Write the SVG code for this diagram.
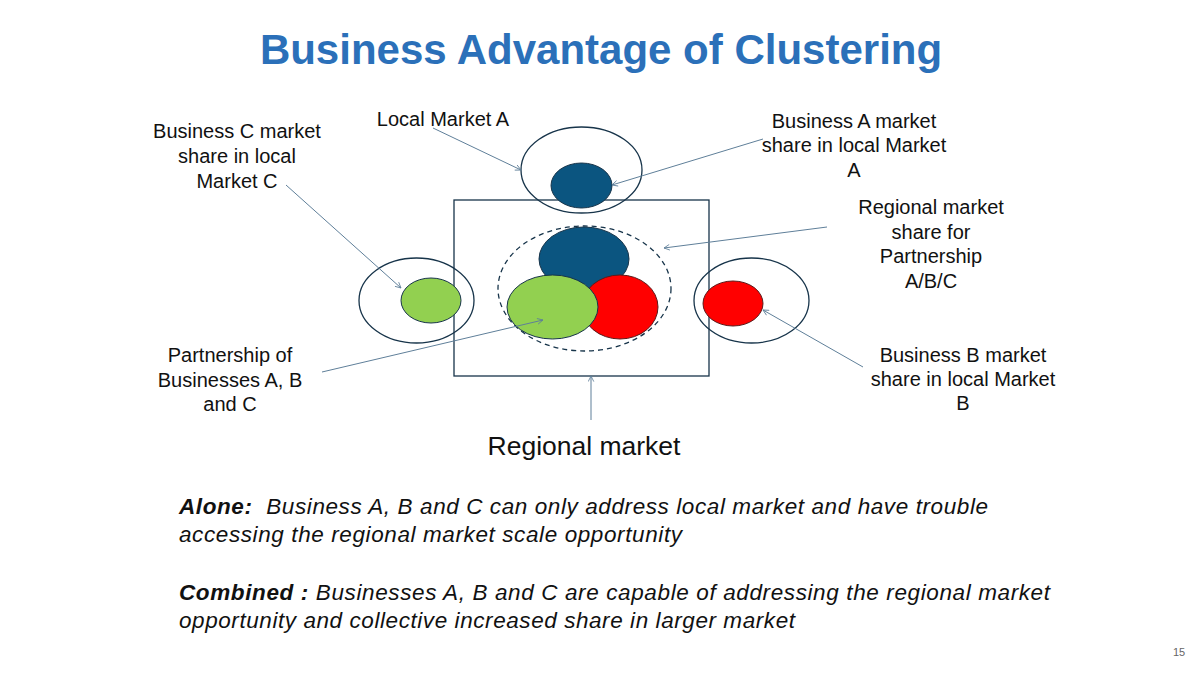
<svg xmlns="http://www.w3.org/2000/svg" width="1200" height="675" viewBox="0 0 1200 675">
<defs>
<marker id="arr" viewBox="0 0 10 10" refX="9" refY="5" markerWidth="7" markerHeight="7" orient="auto-start-reverse" markerUnits="userSpaceOnUse">
<path d="M1,1 L9,5 L1,9" fill="none" stroke="#5f7f99" stroke-width="1.2"/>
</marker>
</defs>
<style>
.t{font-family:"Liberation Sans",Arial,sans-serif;fill:#111;}
.lbl{font-size:20px;text-anchor:middle;}
.body{font-size:22.5px;font-style:italic;}
.outline{fill:none;stroke:#17344a;stroke-width:1.3;}
.blue{fill:#0b5580;stroke:#17344a;stroke-width:1;}
.green{fill:#92d050;stroke:#17344a;stroke-width:1;}
.red{fill:#ff0000;stroke:#5a1a1a;stroke-width:1;}
.conn{fill:none;stroke:#5f7f99;stroke-width:1;marker-end:url(#arr);}
</style>
<rect width="1200" height="675" fill="#ffffff"/>
<text class="t" x="601" y="64" font-size="42" font-weight="bold" text-anchor="middle" style="fill:#2b70b9">Business Advantage of Clustering</text>

<g id="regional-market">
<rect x="454" y="200" width="255" height="176" class="outline"/>
</g>
<g id="local-market-a">
<ellipse cx="581.5" cy="170" rx="60.5" ry="43" class="outline"/>
<ellipse cx="581.5" cy="185.5" rx="30.5" ry="22.5" class="blue"/>
</g>
<g id="local-market-c">
<ellipse cx="416.5" cy="300.5" rx="57.5" ry="42.5" class="outline"/>
<ellipse cx="431" cy="300.5" rx="30" ry="22.5" class="green"/>
</g>
<g id="local-market-b">
<ellipse cx="751.5" cy="300.5" rx="57.5" ry="42.5" class="outline"/>
<ellipse cx="733" cy="303.5" rx="30" ry="22.5" class="red"/>
</g>
<g id="partnership">
<ellipse cx="584.5" cy="288.5" rx="86.5" ry="62.5" fill="none" stroke="#17344a" stroke-width="1.3" stroke-dasharray="5,4"/>
<ellipse cx="584" cy="259" rx="45" ry="32" class="blue"/>
<ellipse cx="620" cy="307" rx="38" ry="32" class="red"/>
<ellipse cx="552.5" cy="307" rx="45.5" ry="32" class="green"/>
</g>

<g id="connectors">
<line x1="433" y1="128" x2="521" y2="170" class="conn"/>
<line x1="763" y1="139" x2="612" y2="185" class="conn"/>
<line x1="827" y1="227" x2="664" y2="248" class="conn"/>
<line x1="286" y1="185" x2="401" y2="288" class="conn"/>
<line x1="322" y1="372" x2="543" y2="320" class="conn"/>
<line x1="863" y1="367" x2="763" y2="310" class="conn"/>
<line x1="591" y1="420" x2="591" y2="376" class="conn"/>
</g>

<g id="label-local-market-a">
<text class="t lbl" x="443" y="126">Local Market A</text>
</g>
<g id="label-business-a">
<text class="t lbl" x="854" y="128">Business A market</text>
<text class="t lbl" x="854" y="152">share in local Market</text>
<text class="t lbl" x="854" y="177">A</text>
</g>
<g id="label-regional-share">
<text class="t lbl" x="931" y="214">Regional market</text>
<text class="t lbl" x="931" y="239">share for</text>
<text class="t lbl" x="931" y="263">Partnership</text>
<text class="t lbl" x="931" y="288">A/B/C</text>
</g>
<g id="label-business-c">
<text class="t lbl" x="237" y="138">Business C market</text>
<text class="t lbl" x="237" y="163">share in local</text>
<text class="t lbl" x="237" y="188">Market C</text>
</g>
<g id="label-partnership">
<text class="t lbl" x="230" y="362">Partnership of</text>
<text class="t lbl" x="230" y="387">Businesses A, B</text>
<text class="t lbl" x="230" y="411">and C</text>
</g>
<g id="label-business-b">
<text class="t lbl" x="963" y="362">Business B market</text>
<text class="t lbl" x="963" y="386">share in local Market</text>
<text class="t lbl" x="963" y="410">B</text>
</g>
<g id="label-regional-market">
<text class="t" x="584" y="455" font-size="26.5" text-anchor="middle">Regional market</text>
</g>

<g id="body-text">
<text class="t body" x="179" y="514" textLength="809" lengthAdjust="spacing" xml:space="preserve"><tspan font-weight="bold">Alone:</tspan>  Business A, B and C can only address local market and have trouble</text>
<text class="t body" x="179" y="542" textLength="503" lengthAdjust="spacing">accessing the regional market scale opportunity</text>
<text class="t body" x="179" y="600" textLength="871" lengthAdjust="spacing"><tspan font-weight="bold">Combined :</tspan> Businesses A, B and C are capable of addressing the regional market</text>
<text class="t body" x="179" y="628" textLength="616" lengthAdjust="spacing">opportunity and collective increased share in larger market</text>
</g>
<text class="t" x="1179" y="656" font-size="11" text-anchor="middle" style="fill:#666">15</text>
</svg>
